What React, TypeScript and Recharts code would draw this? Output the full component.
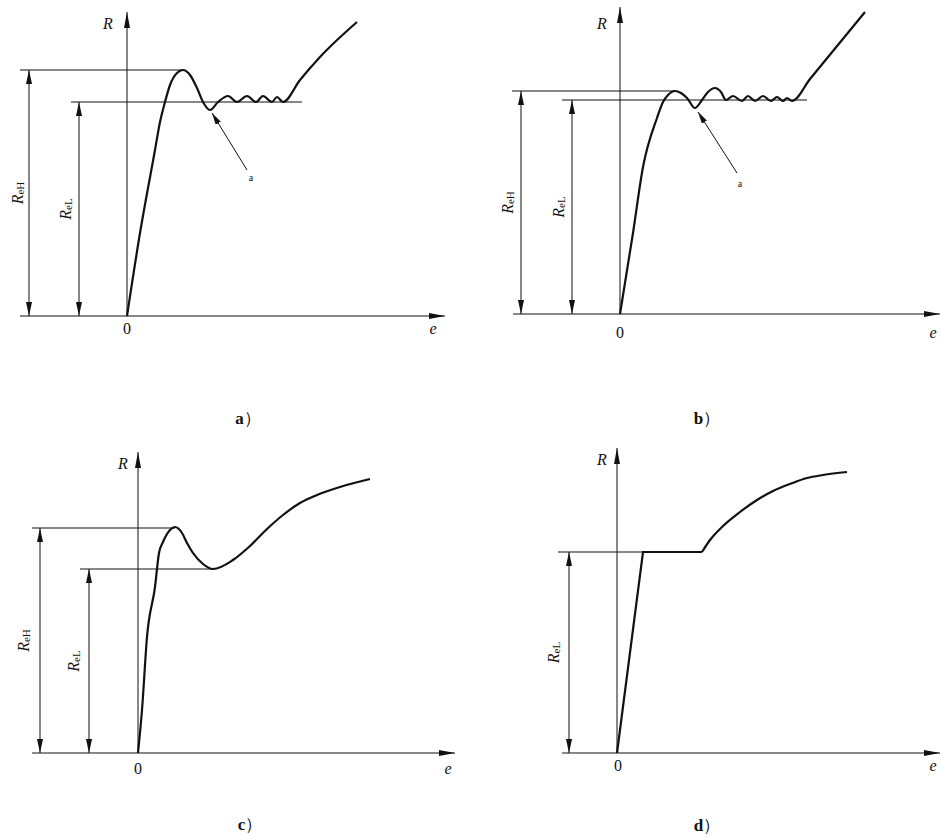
import React from "react";
import { LineChart, Line, XAxis, YAxis, ReferenceLine, ReferenceDot } from "recharts";

type Pt = { e: number; R: number };

// a) pronounced upper yield, wavy plateau, then hardening
const curveA: Pt[] = [
  { e: 0, R: 0 }, { e: 13, R: 83 }, { e: 28, R: 166 }, { e: 33, R: 194 }, { e: 38, R: 214 },
  { e: 43, R: 231 }, { e: 50, R: 243 }, { e: 56, R: 246 }, { e: 63, R: 241 }, { e: 70, R: 228 },
  { e: 76, R: 214 }, { e: 83, R: 206 }, { e: 91, R: 214 }, { e: 101, R: 220 }, { e: 110, R: 214 },
  { e: 120, R: 220 }, { e: 129, R: 214 }, { e: 136, R: 220 }, { e: 145, R: 214 }, { e: 150, R: 219 },
  { e: 156, R: 214 }, { e: 173, R: 236 }, { e: 193, R: 259 }, { e: 230, R: 294 },
];

// b) small upper yield, second bump, wavy plateau
const curveB: Pt[] = [
  { e: 0, R: 0 }, { e: 13, R: 81 }, { e: 23, R: 147 }, { e: 37, R: 196 }, { e: 43, R: 212 },
  { e: 48, R: 219 }, { e: 55, R: 223 }, { e: 61, R: 221 }, { e: 67, R: 216 }, { e: 75, R: 206 },
  { e: 82, R: 214 }, { e: 88, R: 222 }, { e: 95, R: 226 }, { e: 101, R: 222 }, { e: 106, R: 214 },
  { e: 113, R: 218 }, { e: 122, R: 213 }, { e: 128, R: 218 }, { e: 135, R: 213 }, { e: 143, R: 218 },
  { e: 151, R: 213 }, { e: 157, R: 217 }, { e: 163, R: 213 }, { e: 167, R: 216 }, { e: 172, R: 213 },
  { e: 190, R: 235 }, { e: 245, R: 302 },
];

// c) upper yield drop without plateau
const curveC: Pt[] = [
  { e: 0, R: 0 }, { e: 4, R: 43 }, { e: 9, R: 116 }, { e: 17, R: 166 }, { e: 21, R: 200 },
  { e: 25, R: 211 }, { e: 32, R: 223 }, { e: 37, R: 226 }, { e: 44, R: 220 }, { e: 49, R: 210 },
  { e: 55, R: 200 }, { e: 65, R: 189 }, { e: 75, R: 184 }, { e: 95, R: 193 }, { e: 112, R: 207 },
  { e: 129, R: 224 }, { e: 145, R: 238 }, { e: 162, R: 250 }, { e: 179, R: 258 }, { e: 202, R: 266 },
  { e: 232, R: 274 },
];

// d) flat yield plateau
const curveDElastic: Pt[] = [
  { e: 0, R: 0 }, { e: 26, R: 201 }, { e: 85, R: 201 },
];
const curveDHardening: Pt[] = [
  { e: 85, R: 201 }, { e: 93, R: 213 }, { e: 106, R: 227 }, { e: 123, R: 241 }, { e: 140, R: 253 },
  { e: 156, R: 262 }, { e: 173, R: 269 }, { e: 190, R: 275 }, { e: 206, R: 278 }, { e: 230, R: 281 },
];

const yieldA = { high: 246, low: 214 };
const yieldB = { high: 223, low: 214 };
const yieldC = { high: 225, low: 184 };
const yieldD = { low: 201 };

const INK = "#111";
const SERIF = '"Liberation Serif", "Times New Roman", serif';

interface Guide { value: number; from: number; to: number; dimAt: number; sub: string; dx: number }
interface PanelCfg {
  left: number; top: number; width: number; height: number;
  eDomain: [number, number]; rDomain: [number, number];
  eAxis: [number, number]; rTop: number;
  smooth: Pt[]; straight?: Pt[];
  guides: Guide[];
  leader?: { from: Pt; to: Pt; text: Pt };
  rLabel: Pt; zeroLabel: Pt; eLabel: Pt;
}

const plainText = (value: string, extra: Record<string, any>) => (p: any) => {
  const vb = p.viewBox ?? {};
  const x = (vb.x ?? 0) + (vb.width ?? 0) / 2;
  const y = (vb.y ?? 0) + (vb.height ?? 0) / 2;
  return (
    <text x={x} y={y} textAnchor="middle" dominantBaseline="central" fill={INK} fontFamily={SERIF} {...extra}>
      {value}
    </text>
  );
};

const dimText = (sub: string, dx: number) => (p: any) => {
  const vb = p.viewBox ?? {};
  const x = (vb.x ?? 0) + dx;
  const y = (vb.y ?? 0) + (vb.height ?? 0) / 2;
  return (
    <text transform={`rotate(-90 ${x} ${y})`} x={x} y={y} textAnchor="middle" dominantBaseline="central" fill={INK} fontFamily={SERIF}>
      <tspan fontSize={16} fontStyle="italic">R</tspan>
      <tspan fontSize={11} dy={3}>{sub}</tspan>
    </text>
  );
};

const arrowLine = (marker: string, start: boolean, end: boolean) => (p: any) => (
  <line
    x1={p.x1} y1={p.y1} x2={p.x2} y2={p.y2}
    stroke={INK} strokeWidth={1}
    markerStart={start ? `url(#${marker})` : undefined}
    markerEnd={end ? `url(#${marker})` : undefined}
  />
);

function Panel({ cfg }: { cfg: PanelCfg }) {
  const [e0, e1] = cfg.eAxis;
  return (
    <div style={{ position: "absolute", left: cfg.left, top: cfg.top }}>
      <LineChart width={cfg.width} height={cfg.height} margin={{ top: 0, right: 0, bottom: 0, left: 0 }}>
        <XAxis type="number" dataKey="e" domain={cfg.eDomain} scale="linear" allowDataOverflow hide />
        <YAxis type="number" domain={cfg.rDomain} scale="linear" allowDataOverflow hide />

        {/* axes */}
        <ReferenceLine segment={[{ x: e0, y: 0 }, { x: e1, y: 0 }]} shape={arrowLine("axisArrow", false, true)} />
        <ReferenceLine segment={[{ x: 0, y: 0 }, { x: 0, y: cfg.rTop }]} shape={arrowLine("axisArrow", false, true)} />

        {/* yield guides and dimension arrows */}
        {cfg.guides.map((g) => (
          <ReferenceLine key={`h${g.sub}`} segment={[{ x: g.from, y: g.value }, { x: g.to, y: g.value }]} stroke={INK} strokeWidth={1} />
        ))}
        {cfg.guides.map((g) => (
          <ReferenceLine
            key={`d${g.sub}`}
            segment={[{ x: g.dimAt, y: 0 }, { x: g.dimAt, y: g.value }]}
            shape={arrowLine("dimArrow", true, true)}
            label={dimText(g.sub, g.dx)}
          />
        ))}

        {cfg.leader && (
          <ReferenceLine
            segment={[{ x: cfg.leader.from.e, y: cfg.leader.from.R }, { x: cfg.leader.to.e, y: cfg.leader.to.R }]}
            shape={arrowLine("leadArrow", false, true)}
          />
        )}
        {cfg.leader && (
          <ReferenceDot x={cfg.leader.text.e} y={cfg.leader.text.R} r={0} fill="none" stroke="none"
            label={plainText("a", { fontSize: 10 })} />
        )}

        <ReferenceDot x={cfg.rLabel.e} y={cfg.rLabel.R} r={0} fill="none" stroke="none"
          label={plainText("R", { fontSize: 16, fontStyle: "italic" })} />
        <ReferenceDot x={cfg.zeroLabel.e} y={cfg.zeroLabel.R} r={0} fill="none" stroke="none"
          label={plainText("0", { fontSize: 16 })} />
        <ReferenceDot x={cfg.eLabel.e} y={cfg.eLabel.R} r={0} fill="none" stroke="none"
          label={plainText("e", { fontSize: 16, fontStyle: "italic" })} />

        {cfg.straight && (
          <Line data={cfg.straight} dataKey="R" type="linear" stroke={INK} strokeWidth={2.2}
            dot={false} activeDot={false} isAnimationActive={false} />
        )}
        <Line data={cfg.smooth} dataKey="R" type="monotone" stroke={INK} strokeWidth={2.2}
          dot={false} activeDot={false} isAnimationActive={false} />
      </LineChart>
    </div>
  );
}

const panels: PanelCfg[] = [
  {
    left: 0, top: 0, width: 470, height: 345,
    eDomain: [-127, 343], rDomain: [-29, 316],
    eAxis: [-107, 318], rTop: 304,
    smooth: curveA,
    guides: [
      { value: yieldA.high, from: -107, to: 56, dimAt: -98, sub: "eH", dx: -12 },
      { value: yieldA.low, from: -56, to: 175, dimAt: -48, sub: "eL", dx: -14 },
    ],
    leader: { from: { e: 120, R: 146 }, to: { e: 85, R: 203 }, text: { e: 124, R: 139 } },
    rLabel: { e: -19, R: 293 }, zeroLabel: { e: 0, R: -12 }, eLabel: { e: 306, R: -12 },
  },
  {
    left: 470, top: 0, width: 470, height: 345,
    eDomain: [-150, 320], rDomain: [-31, 314],
    eAxis: [-107, 320], rTop: 307,
    smooth: curveB,
    guides: [
      { value: yieldB.high, from: -108, to: 55, dimAt: -99, sub: "eH", dx: -14 },
      { value: yieldB.low, from: -58, to: 187, dimAt: -48, sub: "eL", dx: -14 },
    ],
    leader: { from: { e: 117, R: 141 }, to: { e: 78, R: 202 }, text: { e: 120, R: 131 } },
    rLabel: { e: -18, R: 291 }, zeroLabel: { e: 0, R: -18 }, eLabel: { e: 313, R: -18 },
  },
  {
    left: 0, top: 420, width: 470, height: 417,
    eDomain: [-138, 332], rDomain: [-84, 333],
    eAxis: [-106, 317], rTop: 301,
    smooth: curveC,
    guides: [
      { value: yieldC.high, from: -106, to: 37, dimAt: -98, sub: "eH", dx: -17 },
      { value: yieldC.low, from: -58, to: 77, dimAt: -49, sub: "eL", dx: -16 },
    ],
    rLabel: { e: -15, R: 290 }, zeroLabel: { e: 0, R: -15 }, eLabel: { e: 310, R: -15 },
  },
  {
    left: 470, top: 420, width: 470, height: 417,
    eDomain: [-147, 323], rDomain: [-84, 333],
    eAxis: [-55, 323], rTop: 305,
    smooth: curveDHardening, straight: curveDElastic,
    guides: [
      { value: yieldD.low, from: -59, to: 83, dimAt: -48, sub: "eL", dx: -16 },
    ],
    rLabel: { e: -15, R: 294 }, zeroLabel: { e: 1, R: -12 }, eLabel: { e: 316, R: -12 },
  },
];

const captions = ["a", "b", "c", "d"];
const captionPos: [number, number][] = [[248, 418], [707, 418], [250, 824], [707, 825]];

export default function App() {
  return (
    <div style={{ position: "relative", width: 940, height: 837, overflow: "hidden", background: "#fff" }}>
      <style>{"body{margin:0}"}</style>
      <svg width={0} height={0} style={{ position: "absolute" }}>
        <defs>
          <marker id="axisArrow" markerUnits="userSpaceOnUse" viewBox="0 0 16 6" refX={16} refY={3}
            markerWidth={16} markerHeight={6} orient="auto-start-reverse">
            <path d="M0,0 L16,3 L0,6 Z" fill={INK} />
          </marker>
          <marker id="dimArrow" markerUnits="userSpaceOnUse" viewBox="0 0 14 6" refX={14} refY={3}
            markerWidth={14} markerHeight={6} orient="auto-start-reverse">
            <path d="M0,0 L14,3 L0,6 Z" fill={INK} />
          </marker>
          <marker id="leadArrow" markerUnits="userSpaceOnUse" viewBox="0 0 12 6" refX={12} refY={3}
            markerWidth={12} markerHeight={6} orient="auto-start-reverse">
            <path d="M0,0 L12,3 L0,6 Z" fill={INK} />
          </marker>
        </defs>
      </svg>
      {panels.map((cfg, i) => (
        <Panel key={i} cfg={cfg} />
      ))}
      {captions.map((c, i) => (
        <div
          key={c}
          style={{
            position: "absolute", left: captionPos[i][0], top: captionPos[i][1],
            transform: "translate(-50%, -50%)", fontFamily: SERIF, fontSize: 17, color: INK, whiteSpace: "nowrap",
          }}
        >
          <b>{c}</b>）
        </div>
      ))}
    </div>
  );
}
